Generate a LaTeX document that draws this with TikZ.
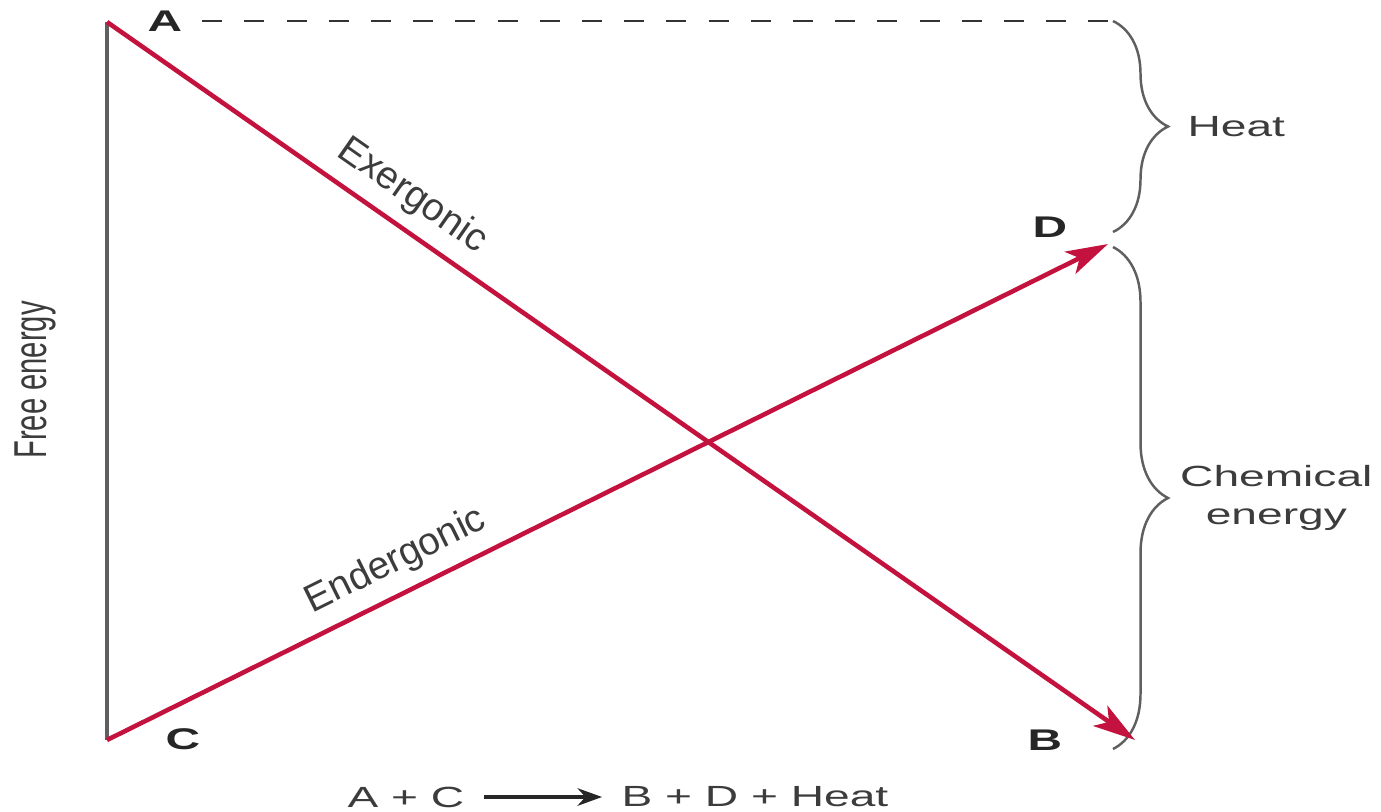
\documentclass[tikz,border=0pt]{standalone}
\usepackage{fontspec}
\setmainfont{Liberation Sans}
\usepackage{tikz}
\usetikzlibrary{arrows.meta,positioning,calc,decorations.pathreplacing}

\definecolor{exred}{RGB}{196,18,62}
\definecolor{axisgray}{RGB}{95,95,95}
\definecolor{txtgray}{RGB}{60,60,60}

\begin{document}
\begin{tikzpicture}[x=0.01cm, y=-0.01cm,
		lbl/.style={font=\fontsize{8.3}{11}\selectfont, text=txtgray, xscale=1.58, align=center},
		slopelbl/.style={font=\fontsize{11}{13}\selectfont, text=txtgray, sloped, above},
		pt/.style={font=\fontsize{8.5}{11}\selectfont\bfseries, text=black!85, xscale=1.6},
		react/.style={draw=exred, line width=1.3pt, -{Stealth[length=12pt, width=7pt, inset=3pt]}},
		energybrace/.style={draw=axisgray, line width=0.7pt, decorate, decoration={brace, amplitude=5.5mm}}]
		\useasboundingbox (0,0) rectangle (1381,811);

		\coordinate (a) at (107,22);
		\coordinate (c) at (107,740);
		\coordinate (b) at (1135,740);
		\coordinate (d) at (1108,244);

		\node[pt] (la) at (165,21) {A};
		\node[pt] (lc) at (183,739) {C};
		\node[pt] (ld) at (1050,227) {D};
		\node[pt] (lb) at (1045,740) {B};

		% braces on the right
		\coordinate (heattop) at (1113,21);
		\coordinate (heatbot) at (1113,232);
		\coordinate (heattip) at (1168,127);
		\coordinate (chemtop) at (1113,247);
		\coordinate (chembot) at (1113,749);
		\coordinate (chemtip) at (1168,498);

		\draw[axisgray, line width=1.2pt] (a) -- (c);
		\draw[black!80, line width=0.7pt, dash pattern=on 5.7pt off 6.3pt] (la.east) -- (heattop);
		\draw[energybrace] (heattop) -- (heatbot);
		\draw[energybrace] (chemtop) -- (chembot);

		\draw[react] (a) -- node[slopelbl, pos=0.279] (exlbl) {Exergonic} (b);
		\draw[react] (c) -- node[slopelbl, pos=0.303] (enlbl) {Endergonic} (d);

		\node[lbl, rotate=90] (fe) at (35,380) {Free energy};
		\node[lbl, anchor=west] (heat) at (heattip) {Heat};
		\node[lbl, anchor=west, inner xsep=2pt] (chem) at (chemtip) {Chemical\\energy};

		\node[lbl] (lhs) at (406,797) {A + C};
		\node[lbl] (rhs) at (755,797) {B + D + Heat};
		\draw[black!85, line width=0.9pt, -{Stealth[length=7pt, width=5pt]}] (lhs) -- (rhs);
	\end{tikzpicture}
\end{document}
